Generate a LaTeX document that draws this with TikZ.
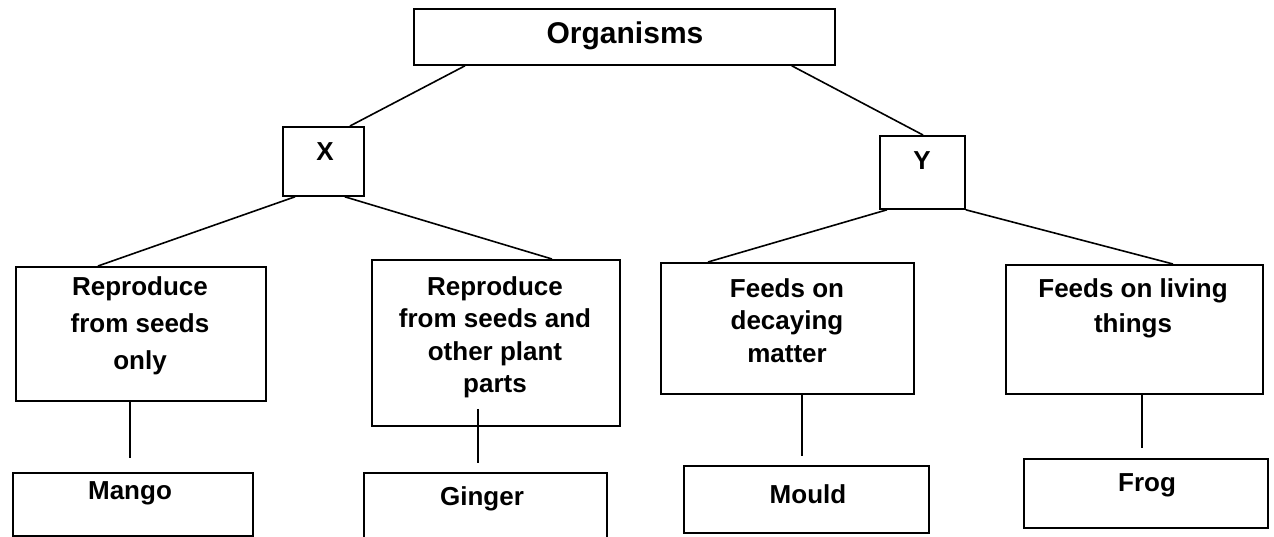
\documentclass[tikz,border=0pt]{standalone}
\usepackage{fontspec}
\setmainfont{Liberation Sans}
\begin{document}
\begin{tikzpicture}[x=1pt,y=-1pt,
  box/.style={draw, line width=1.8pt, inner sep=0pt, anchor=north west},
  txt/.style={font=\bfseries\fontsize{26}{34}\selectfont, inner sep=0pt, align=center, anchor=north},
  diag/.style={line width=1.6pt},
  vert/.style={line width=2.8pt}]
\useasboundingbox (0,0) rectangle (1274,537);
\clip (0,0) rectangle (1274,537);
% boxes
\node[box, minimum width=421pt, minimum height=56pt] (org) at (413,8) {};
\node[box, minimum width=81pt, minimum height=69pt] (x) at (282,126) {};
\node[box, minimum width=85pt, minimum height=73pt] (y) at (879,135) {};
\node[box, minimum width=250pt, minimum height=134pt] (b1) at (15,266) {};
\node[box, minimum width=248pt, minimum height=166pt] (b2) at (371,259) {};
\node[box, minimum width=253pt, minimum height=131pt] (b3) at (660,262) {};
\node[box, minimum width=257pt, minimum height=129pt] (b4) at (1005,264) {};
\node[box, minimum width=240pt, minimum height=63pt] (mango) at (12,472) {};
\node[box, minimum width=243pt, minimum height=80pt] (ginger) at (363,472) {};
\node[box, minimum width=245pt, minimum height=67pt] (mould) at (683,465) {};
\node[box, minimum width=244pt, minimum height=69pt] (frog) at (1023,458) {};
% texts
\node[txt, font=\bfseries\fontsize{30}{34}\selectfont, anchor=center] (orgt) at (625,36) {Organisms};
\node[txt, anchor=center] (xt) at (325,152) {X};
\node[txt, anchor=center] (yt) at (922,161) {Y};
\node[txt, font=\bfseries\fontsize{26}{37}\selectfont] (b1t) at (140,276) {Reproduce\\from seeds\\only};
\node[txt, font=\bfseries\fontsize{26}{32.5}\selectfont] (b2t) at (495,276) {Reproduce\\from seeds and\\other plant\\parts};
\node[txt, font=\bfseries\fontsize{26}{32.5}\selectfont] (b3t) at (787,278) {Feeds on\\decaying\\matter};
\node[txt, font=\bfseries\fontsize{26}{35}\selectfont] (b4t) at (1133,278) {Feeds on living\\things};
\node[txt] (mangot) at (130,481) {Mango};
\node[txt] (gingert) at (482,486) {Ginger};
\node[txt] (mouldt) at (808,484) {Mould};
\node[txt] (frogt) at (1147,473) {Frog};
% connectors
\draw[diag] ([xshift=52pt]org.south west) -- ([xshift=68pt]x.north west);
\draw[diag] ([xshift=-44pt]org.south east) -- ([xshift=44pt]y.north west);
\draw[diag] ([xshift=13pt]x.south west) -- ([xshift=83pt]b1.north west);
\draw[diag] ([xshift=-20pt]x.south east) -- ([xshift=181pt]b2.north west);
\draw[diag] ([xshift=8pt]y.south west) -- ([xshift=48pt]b3.north west);
\draw[diag] (y.south east) -- ([xshift=168pt]b4.north west);
\draw[vert] ([xshift=115pt]b1.south west) -- ([xshift=118pt,yshift=14pt]mango.north west);
\draw[vert] ([xshift=107pt,yshift=18pt]b2.south west) -- ([xshift=115pt,yshift=9pt]ginger.north west);
\draw[vert] ([xshift=142pt]b3.south west) -- ([xshift=119pt,yshift=9pt]mould.north west);
\draw[vert] ([xshift=137pt]b4.south west) -- ([xshift=119pt,yshift=10pt]frog.north west);
\end{tikzpicture}
\end{document}
